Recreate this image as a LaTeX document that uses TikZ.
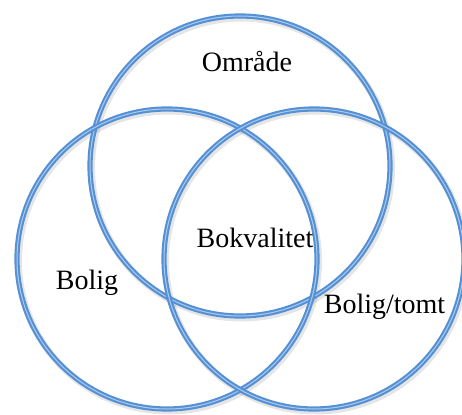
\documentclass[tikz,border=0pt]{standalone}
\usepackage{fontspec}
\setmainfont{Liberation Serif}
\definecolor{ringdark}{HTML}{5590D4}
\definecolor{ringlight}{HTML}{AACBF0}
\begin{document}
\begin{tikzpicture}[x=1pt,y=-1pt,
  ringshadow/.style={circle, minimum size=300pt, inner sep=0pt, draw=black, line width=7pt, draw opacity=0.10},
  ring/.style={circle, minimum size=300pt, inner sep=0pt, draw=ringdark, line width=2.1pt, double=ringlight, double distance=1.0pt},
  lbl/.style={font=\fontsize{28}{32}\selectfont, anchor=base, inner sep=0pt}]
\useasboundingbox (0,0) rectangle (462,414);
% shadows
\node[ringshadow] (st) at (241.5,168) {};
\node[ringshadow] (sl) at (168.5,261) {};
\node[ringshadow] (sr) at (315.5,261) {};
% rings
\node[ring] (top) at (240,166) {};
\node[ring] (left) at (167,259) {};
\node[ring] (right) at (314,259) {};
% labels
\node[lbl] (omr) at (247,72) {Område};
\node[lbl] (bol) at (87,289) {Bolig};
\node[lbl] (bok) at (255,247) {Bokvalitet};
\node[lbl] (bt) at (384.5,313) {Bolig/tomt};
\end{tikzpicture}
\end{document}
